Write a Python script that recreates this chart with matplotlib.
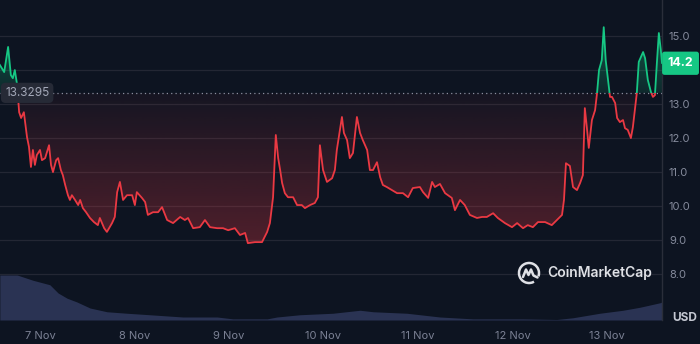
import numpy as np
import matplotlib
matplotlib.use("Agg")
import matplotlib.pyplot as plt
from matplotlib.patches import Rectangle, PathPatch, Arc
from matplotlib.path import Path

plt.rcParams['font.family'] = ['Inter', 'DejaVu Sans']

# hours since 7 Nov 00:00
hours = [-10.2, -9.1, -8.1, -7.4, -6.9, -6.4, -5.8, -5.3, -4.8, -4.1,
         -3.3, -2.8, -2.3, -1.8, -1.3, -0.8, 0.0, 0.5, 1.3, 2.3,
         2.8, 3.3, 4.1, 4.6, 5.3, 5.8, 6.4, 7.1, 7.6, 8.1,
         8.9, 9.7, 10.2, 10.9, 11.7, 12.7, 13.7, 14.7, 15.2, 16.3,
         17.0, 18.3, 19.0, 19.6, 20.3, 21.1, 22.1, 23.4, 24.1, 24.6,
         25.9, 26.7, 27.4, 28.7, 30.0, 31.0, 32.3, 33.8, 35.6, 36.8,
         37.6, 38.9, 40.6, 41.9, 43.2, 45.0, 46.5, 47.8, 49.5, 50.8,
         52.1, 52.8, 54.6, 56.4, 57.7, 58.4, 59.2, 59.9, 60.5, 61.0,
         61.5, 62.2, 63.0, 64.3, 65.3, 66.5, 67.3, 68.6, 69.8, 70.6,
         71.1, 71.9, 72.9, 74.2, 74.9, 75.4, 75.9, 76.7, 77.2, 78.0,
         78.7, 79.5, 80.5, 81.3, 82.0, 83.1, 83.8, 84.6, 85.6, 86.4,
         87.1, 88.1, 89.4, 90.7, 92.2, 93.5, 94.7, 96.5, 97.3, 98.6,
         99.6, 100.3, 101.6, 102.9, 104.6, 105.4, 106.7, 107.9, 109.2, 111.0,
         112.3, 113.5, 115.1, 116.3, 118.1, 119.9, 121.2, 122.7, 123.9, 125.2,
         126.5, 128.3, 130.0, 131.3, 132.6, 133.1, 133.6, 134.6, 135.4, 136.4,
         137.2, 137.9, 138.4, 138.9, 139.4, 140.2, 141.0, 141.5, 142.0, 142.7,
         143.2, 143.7, 144.3, 144.8, 145.3, 146.1, 146.6, 147.3, 148.1, 148.6,
         149.3, 150.1, 150.6, 151.4, 151.6, 152.1, 153.2, 153.7, 154.4, 155.2,
         155.7, 156.2, 156.7, 157.2, 157.7, 158.0]
prices = [14.15, 13.94, 14.68, 13.85, 13.76, 14.00, 13.56, 12.76, 12.59, 12.76,
          12.03, 11.74, 11.15, 11.65, 11.21, 11.50, 11.65, 11.35, 11.41, 11.79,
          11.21, 11.00, 11.35, 11.41, 11.06, 10.91, 10.62, 10.32, 10.18, 10.32,
          10.18, 10.03, 10.18, 9.94, 9.82, 9.65, 9.53, 9.44, 9.65, 9.35,
          9.24, 9.50, 9.68, 10.41, 10.71, 10.18, 10.32, 10.32, 10.03, 10.41,
          10.24, 10.12, 9.74, 9.82, 9.82, 9.97, 9.59, 9.50, 9.68, 9.59,
          9.65, 9.35, 9.38, 9.59, 9.38, 9.35, 9.35, 9.29, 9.35, 9.15,
          9.21, 8.91, 8.94, 8.94, 9.24, 9.50, 10.26, 12.09, 11.41, 11.06,
          10.68, 10.38, 10.26, 10.26, 10.03, 10.03, 9.94, 10.03, 10.09, 10.26,
          11.79, 11.06, 10.71, 10.82, 11.06, 11.65, 12.03, 12.62, 12.15, 11.94,
          11.41, 11.56, 12.62, 12.15, 11.94, 11.65, 11.06, 11.06, 11.29, 10.85,
          10.62, 10.56, 10.47, 10.38, 10.38, 10.26, 10.53, 10.56, 10.41, 10.24,
          10.71, 10.56, 10.65, 10.38, 10.24, 9.88, 10.18, 10.03, 9.74, 9.65,
          9.68, 9.68, 9.79, 9.65, 9.50, 9.38, 9.50, 9.35, 9.44, 9.38,
          9.53, 9.53, 9.44, 9.59, 9.74, 10.18, 11.26, 11.18, 10.56, 10.47,
          10.68, 10.91, 12.88, 12.32, 11.71, 12.53, 12.82, 13.32, 14.00, 14.29,
          15.26, 14.29, 13.71, 13.21, 13.21, 13.03, 12.59, 12.47, 12.53, 12.29,
          12.24, 12.00, 12.32, 13.12, 13.32, 14.24, 14.53, 14.35, 13.71, 13.35,
          13.21, 13.26, 14.21, 15.09, 14.59, 14.21]
assert len(hours) == len(prices)

vol_hours = [-10.2, -5.8, -1.8, 2.5, 4.6, 6.9, 9.4, 12.7, 17.0, 22.1,
             27.9, 36.3, 45.0, 49.0, 57.7, 60.2, 66.0, 74.4, 81.3, 84.6,
             93.2, 101.6, 110.0, 122.7, 131.3, 135.4, 142.2, 148.1, 152.4, 157.5, 158.0]
volume = [60, 60, 53, 47, 36, 29, 24, 16, 11, 9,
          7, 4, 4, 1.5, 1.5, 4, 7, 9, 13, 11,
          9, 4, 1.5, 1.5, 0.7, 3, 9, 13, 17, 23, 24]

baseline = 13.3295
last_price = 14.2
day_ticks = [0, 24, 48, 72, 96, 120, 144]
day_labels = ['7 Nov', '8 Nov', '9 Nov', '10 Nov', '11 Nov', '12 Nov', '13 Nov']
price_ticks = [8.0, 9.0, 10.0, 11.0, 12.0, 13.0, 14.0, 15.0]

BG = '#0d1421'
RED = '#ea3943'
GREEN = '#16c784'
GRID = '#232734'

h = np.array(hours)
p = np.array(prices)
xmin, xmax = -10.16, 158.0
ymin, ymax = 6.65, 16.06

fig = plt.figure(figsize=(7, 3.44), dpi=100, facecolor=BG)
pos = [0, 1 - 320 / 344, 662 / 700, 320 / 344]

# volume underneath
axv = fig.add_axes(pos, zorder=0)
axv.set_facecolor(BG)
axv.fill_between(vol_hours, 0, volume, color='#2a3353', lw=0)
axv.set_xlim(xmin, xmax)
axv.set_ylim(0, 60 * 320 / 45)
axv.axis('off')

ax = fig.add_axes(pos, zorder=1)
ax.set_facecolor('none')
ax.set_xlim(xmin, xmax)
ax.set_ylim(ymin, ymax)

for t in price_ticks:
    ax.axhline(t, color=GRID, lw=0.9, zorder=1)


def gradient_fill(mask_cond, color, a_near, a_far, far_price):
    coll = ax.fill_between(h, p, baseline, where=mask_cond, interpolate=True,
                           color='none', lw=0)
    paths = coll.get_paths()
    if not paths:
        return
    clip = PathPatch(Path.make_compound_path(*paths), transform=ax.transData,
                     facecolor='none', edgecolor='none')
    ax.add_patch(clip)
    rgb = matplotlib.colors.to_rgb(color)
    lo, hi = sorted([baseline, far_price])
    n = 256
    levels = np.linspace(hi, lo, n)
    frac = np.abs(levels - baseline) / abs(far_price - baseline)
    alpha = np.clip(a_near + (a_far - a_near) * frac, 0, 1)
    img = np.zeros((n, 1, 4))
    img[:, 0, :3] = rgb
    img[:, 0, 3] = alpha
    im = ax.imshow(img, extent=[xmin, xmax, lo, hi], aspect='auto',
                   origin='upper', zorder=2, interpolation='bilinear')
    im.set_clip_path(clip)


gradient_fill(p <= baseline, RED, 0.04, 0.30, 8.9)
gradient_fill(p >= baseline, GREEN, 0.12, 0.40, 15.3)
ax.set_xlim(xmin, xmax)
ax.set_ylim(ymin, ymax)

red_line, = ax.plot(h, p, color=RED, lw=1.3, zorder=4, solid_joinstyle='round')
red_line.set_clip_path(Rectangle((xmin, ymin), xmax - xmin, baseline - ymin,
                                 transform=ax.transData))
green_line, = ax.plot(h, p, color=GREEN, lw=1.3, zorder=4, solid_joinstyle='round')
green_line.set_clip_path(Rectangle((xmin, baseline), xmax - xmin, ymax - baseline,
                                   transform=ax.transData))

ax.axhline(baseline, color='#8a8f9f', lw=0.9, ls=(0, (1, 2.5)), zorder=3)
ax.text(0.041, baseline, f'{baseline:.4f}', transform=ax.get_yaxis_transform(),
        ha='center', va='center', fontsize=8.5, color='#a3a8b8', zorder=6,
        bbox=dict(boxstyle='round,pad=0.35,rounding_size=0.4', fc='#262a36', ec='none'))

# axes styling
for s in ['top', 'left', 'bottom']:
    ax.spines[s].set_visible(False)
ax.spines['right'].set_color('#2a2e3a')
ax.spines['right'].set_linewidth(1)
ax.yaxis.tick_right()
ax.set_yticks(price_ticks)
ax.set_yticklabels([f'{t:.1f}' for t in price_ticks])
ax.tick_params(axis='y', length=0, pad=5, labelsize=8, labelcolor='#858b9c')
ax.set_xticks(day_ticks)
ax.set_xticklabels(day_labels)
ax.tick_params(axis='x', length=0, pad=8, labelsize=8, labelcolor='#7b8194')

ax.text(1.028, last_price, f'{last_price:.1f}', transform=ax.get_yaxis_transform(),
        ha='center', va='center', fontsize=9, fontweight='bold', color='white',
        zorder=10, clip_on=False,
        bbox=dict(boxstyle='round,pad=0.45,rounding_size=0.2', fc=GREEN, ec='none'))
fig.text(685 / 700, 1 - 318 / 344, 'USD', ha='center', va='center', fontsize=8.5,
         fontweight='bold', color='#c4c8d2')

# watermark
fig.text(547 / 700, 1 - 273 / 344, 'CoinMarketCap', ha='left', va='center',
         fontsize=10, fontweight='semibold', color='#dfe1e6', zorder=5)
axl = fig.add_axes([517 / 700, 1 - 285 / 344, 24 / 700, 24 / 344], zorder=5)
axl.set_xlim(-1.2, 1.2)
axl.set_ylim(-1.2, 1.2)
axl.axis('off')
axl.add_patch(Arc((0, 0), 2.0, 2.0, theta1=-20, theta2=300, color='#dfe1e6', lw=1.8))
axl.plot([-0.6, -0.3, -0.05, 0.2, 0.45, 0.85], [-0.4, 0.35, -0.2, 0.35, -0.25, -0.45],
         color='#dfe1e6', lw=1.8, solid_joinstyle='round', solid_capstyle='round')

fig.savefig('out.png', dpi=100, facecolor=BG)
